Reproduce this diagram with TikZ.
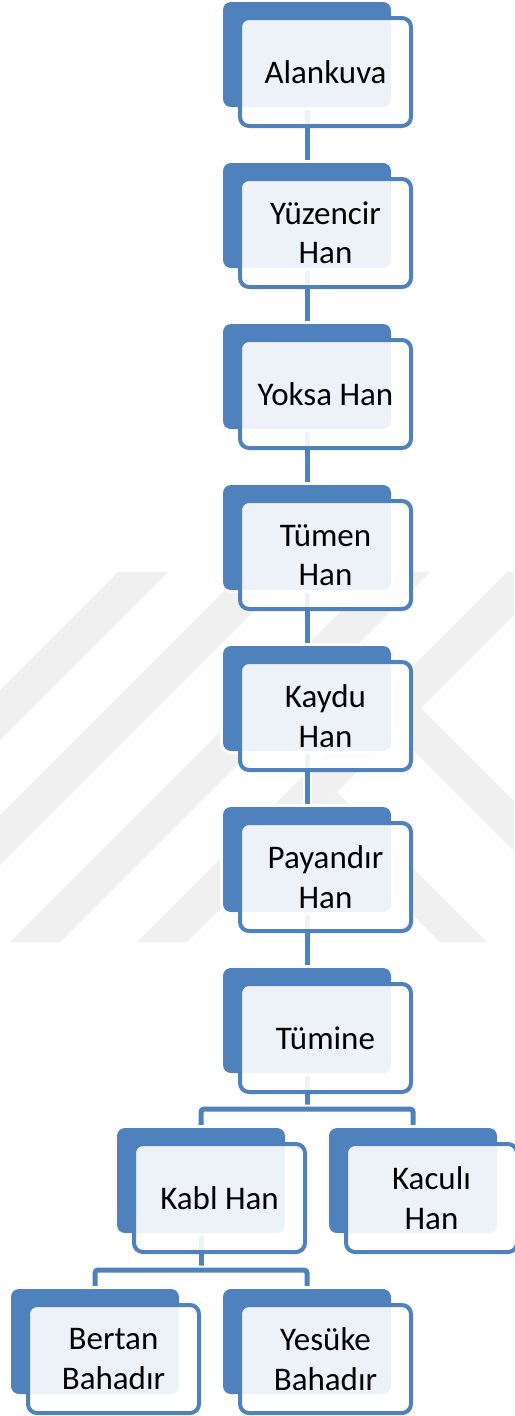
\documentclass[tikz,border=0pt]{standalone}
\usepackage{fontspec}
\setmainfont{Carlito}
\definecolor{ob}{HTML}{4F81BD}
\definecolor{wmgray}{HTML}{F0F0F0}
\pgfdeclarelayer{wmlayer}
\pgfdeclarelayer{bglayer}
\pgfsetlayers{wmlayer,bglayer,main}
\tikzset{
  backbox/.style={rectangle, rounded corners=8pt, fill=ob, minimum width=168pt,
    minimum height=105pt, inner sep=0pt, outer sep=0pt, anchor=north west,
    preaction={draw=white, line width=6pt}},
  frontbox/.style={rectangle, rounded corners=9pt, draw=ob, line width=4pt,
    fill=white, fill opacity=0.9, text opacity=1, minimum width=171pt,
    minimum height=108pt, inner sep=0pt, outer sep=0pt, anchor=north west,
    align=center, font=\fontsize{33}{39.5}\selectfont, text=black},
  conn/.style={draw=ob, line width=5pt, preaction={draw=white, line width=9pt}},
  wmstripe/.style={fill=wmgray},
}
\newcommand\famnode[4]{%
  \node[backbox] (#1-b) at (#2,#3) {};
  \node[frontbox] (#1) at (#2+17,#3+16) {#4};
}
\begin{document}
\begin{tikzpicture}[x=1pt,y=-1pt]
\useasboundingbox (0,0) rectangle (514,1416);
\begin{pgfonlayer}{wmlayer}
  \begin{scope}
    \clip (0,0) rectangle (514,1416);
    \fill[wmstripe] (118,572) -- (168,572) -- (-202,942) -- (-252,942) -- cycle;
    \fill[wmstripe] (243,572) -- (293,572) -- (-77,942) -- (-127,942) -- cycle;
    \fill[wmstripe] (380,572) -- (430,572) -- (60,942) -- (10,942) -- cycle;
    \fill[wmstripe] (507,572) -- (557,572) -- (187,942) -- (137,942) -- cycle;
    \fill[wmstripe] (421,708) -- (655,942) -- (605,942) -- (396,733) -- cycle;
    \fill[wmstripe] (337,792) -- (487,942) -- (440,942) -- (313.5,815.5) -- cycle;
  \end{scope}
\end{pgfonlayer}

\famnode{ala}{223}{2}{Alankuva}
\famnode{yuz}{223}{163}{Yüzencir\\Han}
\famnode{yok}{223}{324}{Yoksa Han}
\famnode{tum}{223}{485}{Tümen\\Han}
\famnode{kay}{223}{646}{Kaydu\\Han}
\famnode{pay}{223}{807}{Payandır\\Han}
\famnode{tmn}{223}{968}{Tümine}
\famnode{kabl}{117}{1128}{Kabl Han}
\famnode{kac}{329}{1128}{Kaculı\\Han}
\famnode{bert}{11}{1289}{Bertan\\Bahadır}
\famnode{yes}{223}{1289}{Yesüke\\Bahadır}

\path (kabl-b.north) ++(0,-19) coordinate (j1);
\path (bert-b.north) ++(0,-19) coordinate (j2);

\begin{pgfonlayer}{bglayer}
  \draw[conn] (ala-b.south) -- (yuz-b.north);
  \draw[conn] (yuz-b.south) -- (yok-b.north);
  \draw[conn] (yok-b.south) -- (tum-b.north);
  \draw[conn] (tum-b.south) -- (kay-b.north);
  \draw[conn] (kay-b.south) -- (pay-b.north);
  \draw[conn] (pay-b.south) -- (tmn-b.north);
  \draw[conn] (tmn-b.south) -- (tmn-b.south |- j1);
  \draw[conn, rounded corners=3pt] (kabl-b.north) -- (j1) -| (kac-b.north);
  \draw[conn] (kabl-b.south) -- (kabl-b.south |- j2);
  \draw[conn, rounded corners=3pt] (bert-b.north) -- (j2) -| (yes-b.north);
\end{pgfonlayer}
\end{tikzpicture}
\end{document}
